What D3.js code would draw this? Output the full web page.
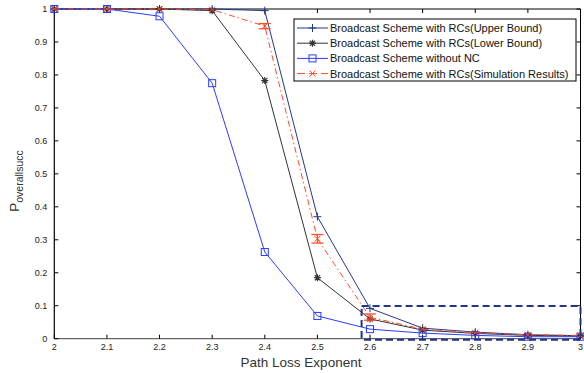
<!DOCTYPE html>
<html>
<head>
<meta charset="utf-8">
<script src="https://cdn.jsdelivr.net/npm/d3@7"></script>
<style>
  body { margin: 0; background: #fff; }
  svg { display: block; font-family: "Liberation Sans", Arial, sans-serif; }
</style>
</head>
<body>
<div id="chart"></div>
<script>
// Path loss exponent values (x axis)
const exponents = [2, 2.1, 2.2, 2.3, 2.4, 2.5, 2.6, 2.7, 2.8, 2.9, 3];

// Series values
const upperBound = [1, 1, 1, 1, 0.995, 0.37, 0.092, 0.032, 0.02, 0.012, 0.009];
const lowerBound = [1, 1, 1, 0.995, 0.783, 0.185, 0.06, 0.026, 0.016, 0.01, 0.008];
const withoutNC  = [1, 1, 0.978, 0.775, 0.263, 0.069, 0.029, 0.017, 0.01, 0.006, 0.006];
const simulation = [1, 1, 1, 0.998, 0.948, 0.303, 0.065, 0.029, 0.018, 0.012, 0.01];

// error bars on the simulation series [x, low, high]
const simErrors = [[2.4, 0.94, 0.956], [2.5, 0.29, 0.316], [2.6, 0.056, 0.075]];

// zoom box drawn in the corner of the plot [x0, x1, y0, y1]
const zoomBox = [2.584, 3.0, -0.003, 0.099];

const xTicks = [2, 2.1, 2.2, 2.3, 2.4, 2.5, 2.6, 2.7, 2.8, 2.9, 3];
const yTicks = [0, 0.1, 0.2, 0.3, 0.4, 0.5, 0.6, 0.7, 0.8, 0.9, 1];

const seriesNames = [
    'Broadcast Scheme with RCs(Upper Bound)',
    'Broadcast Scheme with RCs(Lower Bound)',
    'Broadcast Scheme without NC',
    'Broadcast Scheme with RCs(Simulation Results)'
];

const W = 584, H = 373;
const plotL = 54.3, plotR = 580.5, plotT = 9, plotB = 338.7;

const x = d3.scaleLinear().domain([2, 3]).range([plotL, plotR]);
const y = d3.scaleLinear().domain([0, 1]).range([plotB, plotT]);

const svg = d3.select("#chart").append("svg")
    .attr("width", W)
    .attr("height", H);

// Series styles
const series = [
    { name: seriesNames[0], values: upperBound, color: '#22388a', marker: 'plus', dash: null },
    { name: seriesNames[1], values: lowerBound, color: '#333333', marker: 'star', dash: null },
    { name: seriesNames[2], values: withoutNC,  color: '#2a3cff', marker: 'square', dash: null },
    { name: seriesNames[3], values: simulation, color: '#ff4a26', marker: 'cross', dash: '6,3,1.5,3' }
];

// draw a marker at (cx, cy)
function drawMarker(g, type, cx, cy, color) {
    if (type === 'plus') {
        g.append("path")
            .attr("d", `M${cx - 4},${cy}H${cx + 4}M${cx},${cy - 4}V${cy + 4}`)
            .attr("stroke", color).attr("stroke-width", 1).attr("fill", "none");
    } else if (type === 'star') {
        g.append("path")
            .attr("d", `M${cx - 3.5},${cy}H${cx + 3.5}M${cx},${cy - 3.5}V${cy + 3.5}` +
                `M${cx - 2.6},${cy - 2.6}L${cx + 2.6},${cy + 2.6}M${cx - 2.6},${cy + 2.6}L${cx + 2.6},${cy - 2.6}`)
            .attr("stroke", color).attr("stroke-width", 1.2).attr("fill", "none");
    } else if (type === 'square') {
        g.append("rect")
            .attr("x", cx - 3.5).attr("y", cy - 3.5)
            .attr("width", 7).attr("height", 7)
            .attr("stroke", color).attr("stroke-width", 1).attr("fill", "none");
    } else if (type === 'cross') {
        g.append("path")
            .attr("d", `M${cx - 3},${cy - 3}L${cx + 3},${cy + 3}M${cx - 3},${cy + 3}L${cx + 3},${cy - 3}`)
            .attr("stroke", color).attr("stroke-width", 1).attr("fill", "none");
    }
}

// Axes frame
const frame = svg.append("g");
frame.append("line").attr("x1", plotL).attr("x2", plotR).attr("y1", plotT).attr("y2", plotT)
    .attr("stroke", "#000").attr("stroke-width", 1);
frame.append("line").attr("x1", plotR).attr("x2", plotR).attr("y1", plotT).attr("y2", plotB)
    .attr("stroke", "#000").attr("stroke-width", 1);
frame.append("line").attr("x1", plotL).attr("x2", plotL).attr("y1", plotT).attr("y2", plotB)
    .attr("stroke", "#000").attr("stroke-width", 1.2);
frame.append("line").attr("x1", plotL).attr("x2", plotR).attr("y1", plotB).attr("y2", plotB)
    .attr("stroke", "#666").attr("stroke-width", 1.2);

// Ticks pointing inward on all four sides
const tickG = svg.append("g").attr("stroke", "#000").attr("stroke-width", 1);
xTicks.forEach(t => {
    tickG.append("line").attr("x1", x(t)).attr("x2", x(t)).attr("y1", plotB).attr("y2", plotB - 4);
    tickG.append("line").attr("x1", x(t)).attr("x2", x(t)).attr("y1", plotT).attr("y2", plotT + 4);
});
yTicks.forEach(t => {
    tickG.append("line").attr("x1", plotL).attr("x2", plotL + 4).attr("y1", y(t)).attr("y2", y(t));
    tickG.append("line").attr("x1", plotR).attr("x2", plotR - 4).attr("y1", y(t)).attr("y2", y(t));
});

// Tick labels
svg.append("g").selectAll("text")
    .data(xTicks)
    .enter().append("text")
    .attr("x", d => x(d))
    .attr("y", plotB + 11)
    .attr("text-anchor", "middle")
    .attr("font-size", 9)
    .attr("fill", "#222")
    .text(d => d3.format("")(d));

svg.append("g").selectAll("text")
    .data(yTicks)
    .enter().append("text")
    .attr("x", plotL - 7)
    .attr("y", d => y(d) + 3)
    .attr("text-anchor", "end")
    .attr("font-size", 9)
    .attr("fill", "#222")
    .text(d => d3.format("")(d));

// Series lines and markers
const line = d3.line()
    .x((d, i) => x(exponents[i]))
    .y(d => y(d));

series.forEach(s => {
    svg.append("path")
        .datum(s.values)
        .attr("d", line)
        .attr("fill", "none")
        .attr("stroke", s.color)
        .attr("stroke-width", 1)
        .attr("stroke-dasharray", s.dash);
    const mg = svg.append("g");
    s.values.forEach((v, i) => drawMarker(mg, s.marker, x(exponents[i]), y(v), s.color));
});

// Error bars for simulation results
const eg = svg.append("g").attr("stroke", "#ff4a26").attr("stroke-width", 1.2);
simErrors.forEach(([ex, lo, hi]) => {
    eg.append("line").attr("x1", x(ex)).attr("x2", x(ex)).attr("y1", y(lo)).attr("y2", y(hi));
    eg.append("line").attr("x1", x(ex) - 6).attr("x2", x(ex) + 6).attr("y1", y(lo)).attr("y2", y(lo));
    eg.append("line").attr("x1", x(ex) - 6).attr("x2", x(ex) + 6).attr("y1", y(hi)).attr("y2", y(hi));
});

// Dashed zoom box
svg.append("rect")
    .attr("x", x(zoomBox[0]))
    .attr("y", y(zoomBox[3]))
    .attr("width", x(zoomBox[1]) - x(zoomBox[0]))
    .attr("height", y(zoomBox[2]) - y(zoomBox[3]))
    .attr("fill", "none")
    .attr("stroke", "#1f3585")
    .attr("stroke-width", 2)
    .attr("stroke-dasharray", "7,4");

// Legend
const legend = svg.append("g");
legend.append("rect")
    .attr("x", 294).attr("y", 19)
    .attr("width", 282).attr("height", 62)
    .attr("fill", "#fff").attr("stroke", "#000").attr("stroke-width", 1);

series.forEach((s, i) => {
    const ly = 28 + i * 15.2;
    legend.append("line")
        .attr("x1", 297).attr("x2", 328).attr("y1", ly).attr("y2", ly)
        .attr("stroke", s.color).attr("stroke-width", 1)
        .attr("stroke-dasharray", s.dash ? "8,4" : null);
    drawMarker(legend, s.marker, 312.5, ly, s.color);
    legend.append("text")
        .attr("x", 330).attr("y", ly + 4)
        .attr("font-size", 11)
        .attr("fill", "#111")
        .text(s.name);
});

// Axis labels
svg.append("text")
    .attr("x", 301).attr("y", 367)
    .attr("text-anchor", "middle")
    .attr("font-size", 13.5)
    .attr("fill", "#333")
    .text("Path Loss Exponent");

const yl = svg.append("text")
    .attr("transform", "translate(19,181) rotate(-90)")
    .attr("text-anchor", "middle")
    .attr("fill", "#333");
yl.append("tspan").attr("font-size", 13.5).text("P");
yl.append("tspan").attr("font-size", 10.5).attr("dy", 4).text("overallsucc");
</script>
</body>
</html>
